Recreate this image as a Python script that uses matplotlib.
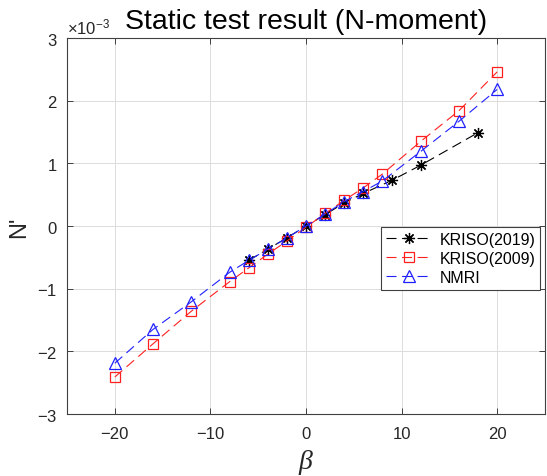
import matplotlib
matplotlib.use("Agg")
import matplotlib.pyplot as plt
from matplotlib.ticker import ScalarFormatter

plt.rcParams['font.family'] = ['Liberation Sans', 'DejaVu Sans']
plt.rcParams['mathtext.fontset'] = 'custom'
plt.rcParams['mathtext.rm'] = 'Liberation Sans'
plt.rcParams['mathtext.it'] = 'Liberation Serif:italic'

# Drift angle (deg) and N-moment coefficient for each test campaign
beta_2019 = [-6, -4, -2, 0, 2, 4, 6, 9, 12, 18]
n_2019 = [-0.55e-3, -0.37e-3, -0.19e-3, 0.0, 0.18e-3, 0.37e-3, 0.52e-3, 0.73e-3, 0.97e-3, 1.49e-3]

beta_2009 = [-20, -16, -12, -8, -6, -4, -2, 0, 2, 4, 6, 8, 12, 16, 20]
n_2009 = [-2.41e-3, -1.88e-3, -1.36e-3, -0.89e-3, -0.67e-3, -0.45e-3, -0.24e-3, -0.02e-3,
          0.20e-3, 0.41e-3, 0.61e-3, 0.83e-3, 1.35e-3, 1.84e-3, 2.46e-3]

beta_nmri = [-20, -16, -12, -8, -6, -4, -2, 0, 2, 4, 6, 8, 12, 16, 20]
n_nmri = [-2.19e-3, -1.65e-3, -1.21e-3, -0.74e-3, -0.55e-3, -0.37e-3, -0.19e-3, 0.0,
          0.19e-3, 0.39e-3, 0.55e-3, 0.72e-3, 1.19e-3, 1.67e-3, 2.18e-3]

x_ticks = [-20, -10, 0, 10, 20]
y_ticks = [-3e-3, -2e-3, -1e-3, 0, 1e-3, 2e-3, 3e-3]

fig = plt.figure(figsize=(5.47, 4.77), dpi=100)
ax = fig.add_axes([67 / 547, 62 / 477, 478 / 547, 376 / 477])

dash = (0, (9, 5))
asterisk = (8, 2, 0)
ax.plot(beta_2019, n_2019, color='black', linestyle=dash, linewidth=0.8,
        marker=asterisk, markersize=8, markeredgewidth=0.9, label='KRISO(2019)')
ax.plot(beta_2009, n_2009, color='#ff2020', linestyle=dash, linewidth=0.8,
        marker='s', markersize=7, markerfacecolor='none', markeredgewidth=0.9,
        label='KRISO(2009)')
ax.plot(beta_nmri, n_nmri, color='#2020ff', linestyle=dash, linewidth=0.8,
        marker='^', markersize=8.5, markerfacecolor='none', markeredgewidth=0.9,
        label='NMRI')

ax.set_xlim(-25, 25)
ax.set_ylim(-3e-3, 3e-3)
ax.set_xticks(x_ticks)
ax.set_yticks(y_ticks)

fmt = ScalarFormatter(useMathText=True)
fmt.set_powerlimits((-2, 2))
ax.yaxis.set_major_formatter(fmt)
ax.yaxis.get_offset_text().set_fontsize(12)
ax.yaxis.get_offset_text().set_color('#262626')

ax.grid(True, color='#dcdcdc', linewidth=0.7)
ax.set_axisbelow(True)
for s in ax.spines.values():
    s.set_color('#404040')
    s.set_linewidth(0.8)
ax.tick_params(direction='in', top=True, right=True, length=4, width=0.6,
               labelsize=12, colors='#262626')
ax.tick_params(axis='x', pad=9)
ax.tick_params(axis='y', pad=7)

ax.set_title('Static test result (N-moment)', fontsize=20.5, color='black', pad=7)
ax.set_xlabel(r'$\beta$', fontsize=20, color='#262626', labelpad=4)
ax.set_ylabel("N'", fontsize=17, color='#262626', labelpad=5)

leg = ax.legend(loc='upper right', bbox_to_anchor=(0.99, 0.497), fontsize=11.5,
                numpoints=1, handlelength=2.9, handletextpad=0.45,
                borderpad=0.3, labelspacing=0.25, fancybox=False,
                framealpha=1, edgecolor='#404040', borderaxespad=0.0)
leg.get_frame().set_linewidth(0.8)

fig.savefig('out.png', dpi=100)
